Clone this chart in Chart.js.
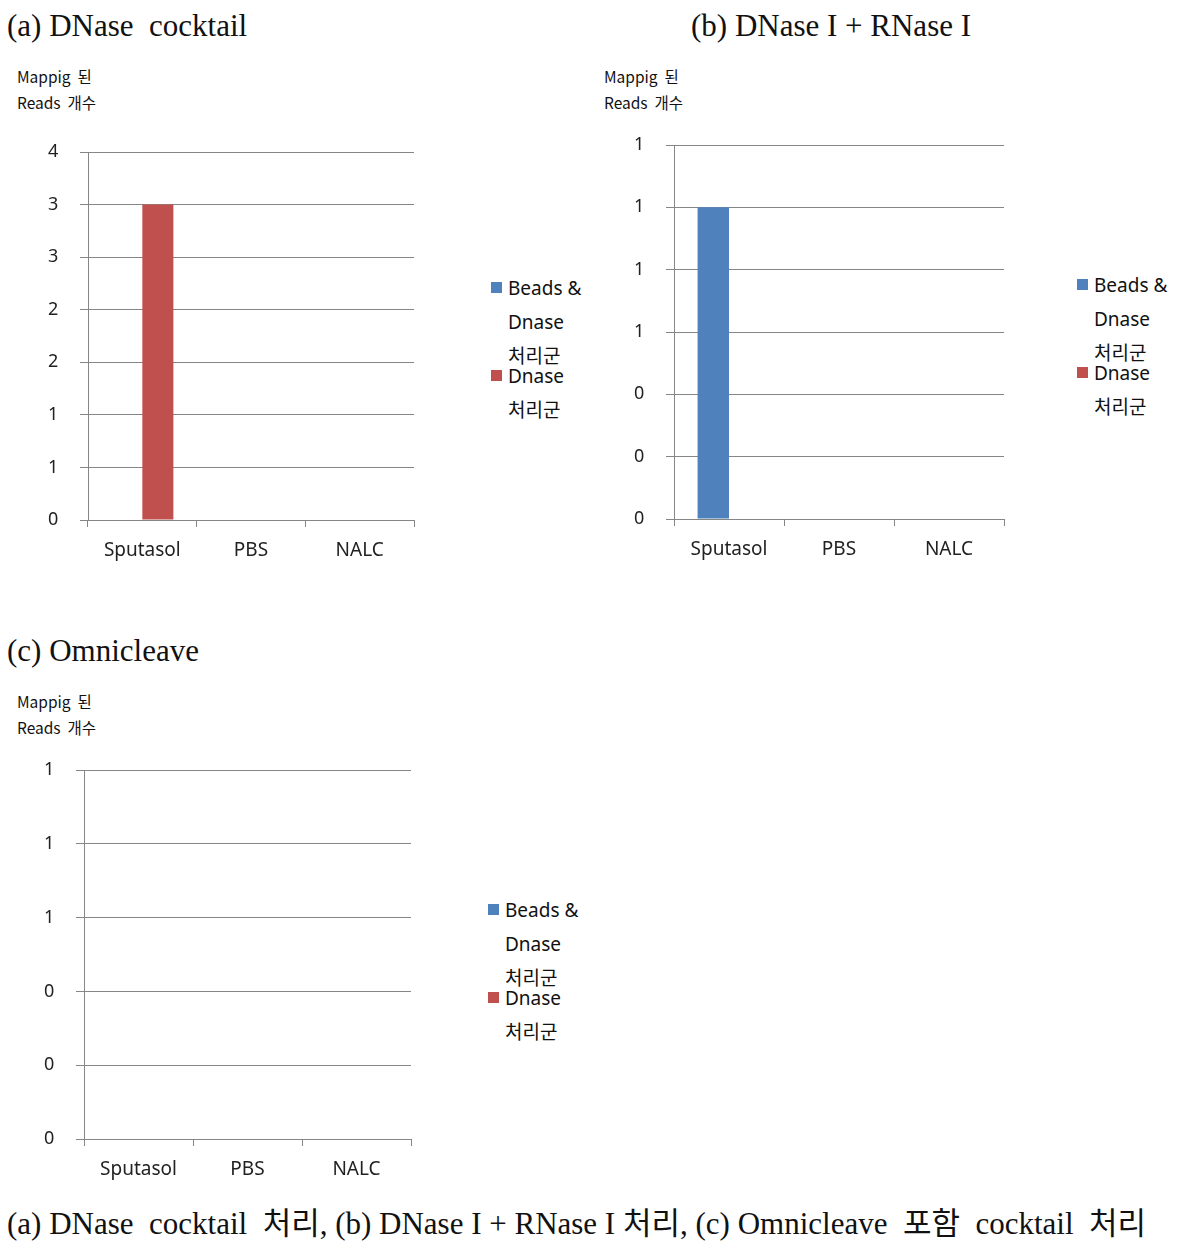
<!DOCTYPE html>
<html>
<head>
<meta charset="utf-8">
<script src="https://cdn.jsdelivr.net/npm/chart.js@4.4.1/dist/chart.umd.min.js"></script>
<style>
  body { margin: 0; background: #fff; width: 1196px; height: 1248px; position: relative; overflow: hidden; }
  .title { position: absolute; font-family: "Liberation Serif", "DejaVu Serif", "Noto Sans CJK KR", serif; font-size: 31px; color: #111; white-space: pre; }
  .ylab { position: absolute; font-family: "Noto Sans CJK KR", "Noto Sans", sans-serif; font-size: 15.5px; color: #111; line-height: 26px; white-space: pre; }
  .legend { position: absolute; font-family: "Noto Sans", "Noto Sans CJK KR", sans-serif; font-size: 19px; color: #111; }
  .legend div { position: absolute; white-space: nowrap; line-height: 22px; }
  .legend span.sw { position: absolute; width: 11px; height: 11px; }
  canvas { position: absolute; }
</style>
</head>
<body>

<div class="title" style="left:7px; top:8px;">(a) DNase  cocktail</div>
<div class="title" style="left:691px; top:8px;">(b) DNase I + RNase I</div>
<div class="title" style="left:7px; top:633px;">(c) Omnicleave</div>
<div class="title" style="left:7px; top:1198px;">(a) DNase  cocktail  처리, (b) DNase I + RNase I 처리, (c) Omnicleave  포함  cocktail  처리</div>

<div class="ylab" style="left:17px; top:63px;">Mappig  된
Reads  개수</div>
<div class="ylab" style="left:604px; top:63px;">Mappig  된
Reads  개수</div>
<div class="ylab" style="left:17px; top:688px;">Mappig  된
Reads  개수</div>

<div id="legA" class="legend" style="left:491px; top:278px;"></div>
<div id="legB" class="legend" style="left:1077px; top:275px;"></div>
<div id="legC" class="legend" style="left:488px; top:900px;"></div>

<canvas id="chartA"></canvas>
<canvas id="chartB"></canvas>
<canvas id="chartC"></canvas>

<script>
// data
const categories = ['Sputasol', 'PBS', 'NALC'];
const seriesNames = [['Beads &', 'Dnase', '처리군'], ['Dnase', '처리군']];
const barColors = ['#4F81BD', '#C0504D'];

const beadsA = [0, 0, 0];
const dnaseA = [3, 0, 0];
const beadsB = [1, 0, 0];
const dnaseB = [0, 0, 0];
const beadsC = [0, 0, 0];
const dnaseC = [0, 0, 0];

const yMaxA = 3.5, yStepA = 0.5;
const yMaxB = 1.2, yStepB = 0.2;
const yMaxC = 1.0, yStepC = 0.2;

const gridColor = '#868686';
const xFont = { family: '"Noto Sans", "DejaVu Sans", sans-serif', size: 19 };
const yFont = { family: '"Noto Sans", "DejaVu Sans", sans-serif', size: 18 };

function buildLegend(id) {
    const el = document.getElementById(id);
    let y = 0;
    seriesNames.forEach((lines, i) => {
        const sw = document.createElement('span');
        sw.className = 'sw';
        sw.style.background = barColors[i];
        sw.style.left = '0px';
        sw.style.top = (y + 4) + 'px';
        el.appendChild(sw);
        lines.forEach((line, j) => {
            const d = document.createElement('div');
            d.textContent = line;
            d.style.left = '17px';
            d.style.top = (y + j * 34 - 1) + 'px';
            el.appendChild(d);
        });
        y += 88;
    });
}

// plot area boxes in page pixels
function makeChart(id, box, beads, dnase, yMax, yStep) {
    const cv = document.getElementById(id);
    const left = box.plotLeft - 40;   // tick digits start here
    const top = box.plotTop - 20;
    const width = box.plotRight - left + 6;
    const height = box.plotBottom - top + 60;
    cv.style.left = left + 'px';
    cv.style.top = top + 'px';
    cv.style.width = width + 'px';
    cv.style.height = height + 'px';
    cv.width = width;
    cv.height = height;

    return new Chart(cv, {
        type: 'bar',
        data: {
            labels: categories,
            datasets: [
                { label: 'Beads & Dnase 처리군', data: beads, backgroundColor: barColors[0] },
                { label: 'Dnase 처리군', data: dnase, backgroundColor: barColors[1] }
            ]
        },
        options: {
            responsive: false,
            animation: false,
            layout: { padding: { top: 20, right: 6, left: 0, bottom: 0 } },
            datasets: { bar: { categoryPercentage: 2 / 3.5, barPercentage: 1, borderWidth: 0 } },
            plugins: { legend: { display: false }, tooltip: { enabled: false } },
            scales: {
                x: {
                    grid: { drawOnChartArea: false, drawTicks: true, tickLength: 7, color: gridColor },
                    border: { color: gridColor },
                    ticks: { color: '#222', font: xFont, padding: 12, maxRotation: 0 },
                    afterFit: s => { s.height = 60; }
                },
                y: {
                    min: 0,
                    max: yMax,
                    grid: { color: gridColor, tickLength: 8 },
                    border: { color: gridColor },
                    ticks: {
                        stepSize: yStep,
                        color: '#222',
                        font: yFont,
                        padding: 3,
                        crossAlign: 'far',
                        callback: v => Math.round(v)
                    },
                    afterFit: s => { s.width = 40; }
                }
            }
        }
    });
}

makeChart('chartA', { plotLeft: 88, plotRight: 414, plotTop: 152, plotBottom: 520 }, beadsA, dnaseA, yMaxA, yStepA);
makeChart('chartB', { plotLeft: 674, plotRight: 1004, plotTop: 145, plotBottom: 519 }, beadsB, dnaseB, yMaxB, yStepB);
makeChart('chartC', { plotLeft: 84, plotRight: 411, plotTop: 770, plotBottom: 1139 }, beadsC, dnaseC, yMaxC, yStepC);

buildLegend('legA');
buildLegend('legB');
buildLegend('legC');
</script>
</body>
</html>
